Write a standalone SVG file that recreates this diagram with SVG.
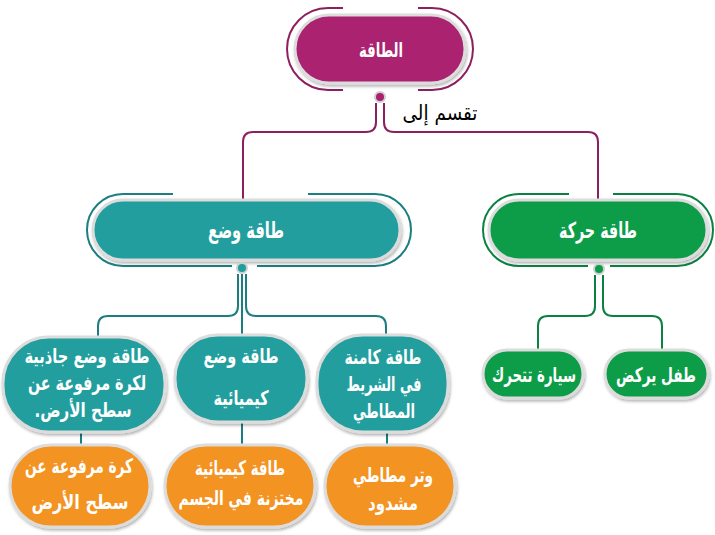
<svg xmlns="http://www.w3.org/2000/svg" width="715" height="535" viewBox="0 0 715 535">
<defs>
<filter id="sh" x="-10%" y="-10%" width="120%" height="130%">
<feDropShadow dx="1" dy="2" stdDeviation="1.5" flood-color="#000" flood-opacity="0.3"/>
</filter>
</defs>
<style>
.pill{stroke:#dcdcdc;stroke-width:3;filter:url(#sh)}
.mag{fill:#AB206F}.teal{fill:#209E9E}.green{fill:#0C9D4A}.orange{fill:#F39321}
.t{font-family:"DejaVu Sans","Noto Sans",sans-serif;fill:#fff;text-anchor:middle;font-weight:bold;direction:rtl;font-size:20px}
.fm{fill:none;stroke:#8E1F5E;stroke-width:2}
.ft{fill:none;stroke:#1B7E80;stroke-width:2}
.fg{fill:none;stroke:#0A8142;stroke-width:2}
.dot{stroke:#cfcfcf;stroke-width:2}
</style>
<g id="connectors">
<path class="fm" d="M376,103 V122 Q376,132 366,132 H253 Q243,132 243,142 V199"/>
<path class="fm" d="M384,103 V122 Q384,132 394,132 H588 Q598,132 598,142 V199"/>
<path class="ft" d="M238,274 V306 Q238,316 228,316 H108 Q98,316 98,326 V337"/>
<path class="ft" d="M242,274 V335"/>
<path class="ft" d="M246,274 V306 Q246,316 256,316 H376 Q386,316 386,326 V336"/>
<path class="fg" d="M595,275 V306 Q595,316 585,316 H548 Q538,316 538,326 V350"/>
<path class="fg" d="M603,275 V306 Q603,316 613,316 H652 Q662,316 662,326 V350"/>
<path class="ft" d="M81,432 V446 M242,422 V446 M387,432 V446"/>
<text x="440" y="120" font-family="DejaVu Serif,DejaVu Sans,serif" font-size="21" fill="#000" text-anchor="middle" direction="rtl" textLength="75" lengthAdjust="spacingAndGlyphs">تقسم إلى</text>
</g>
<g id="n-energy">
<path class="fm" d="M418,8 H432 A41,41 0 0 1 432,90 H418 M343,90 H328 A41,41 0 0 1 328,8 H343"/>
<rect class="pill mag" x="295" y="15" width="170" height="68" rx="34"/>
<circle class="dot mag" cx="380" cy="97" r="5"/>
<text class="t" x="381" y="57" style="font-size:20px" textLength="44" lengthAdjust="spacingAndGlyphs">الطاقة</text>
</g>
<g id="n-potential">
<path class="ft" d="M308,194 H375 A36,36 0 0 1 375,266 H257 M232,266 H123 A36,36 0 0 1 123,194 H173"/>
<rect class="pill teal" x="93" y="200" width="307" height="60" rx="30"/>
<circle class="dot teal" cx="242" cy="268" r="5"/>
<text class="t" x="246" y="238" style="font-size:23px" textLength="76" lengthAdjust="spacingAndGlyphs">طاقة وضع</text>
</g>
<g id="n-kinetic">
<path class="fg" d="M613,194 H677 A36,36 0 0 1 677,266 H610 M588,266 H519 A36,36 0 0 1 519,194 H569"/>
<rect class="pill green" x="489" y="200" width="218" height="60" rx="30"/>
<circle class="dot green" cx="599" cy="269" r="5"/>
<text class="t" x="598" y="238" style="font-size:22px" textLength="78" lengthAdjust="spacingAndGlyphs">طاقة حركة</text>
</g>
<g id="n-car">
<rect class="pill green" x="483" y="350" width="100" height="48" rx="24"/>
<text class="t" x="534" y="382" textLength="84" lengthAdjust="spacingAndGlyphs">سيارة تتحرك</text>
</g>
<g id="n-child">
<rect class="pill green" x="605" y="350" width="103" height="48" rx="24"/>
<text class="t" x="656" y="382" textLength="80" lengthAdjust="spacingAndGlyphs">طفل يركض</text>
</g>
<g id="n-grav">
<rect class="pill teal" x="3" y="337" width="162" height="95" rx="46"/>
<text class="t" x="87" y="363" textLength="125" lengthAdjust="spacingAndGlyphs">طاقة وضع جاذبية</text>
<text class="t" x="87" y="390" textLength="118" lengthAdjust="spacingAndGlyphs">لكرة مرفوعة عن</text>
<text class="t" x="83" y="417" textLength="97" lengthAdjust="spacingAndGlyphs">سطح الأرض.</text>
</g>
<g id="n-chem">
<rect class="pill teal" x="175" y="335" width="132" height="87" rx="43"/>
<text class="t" x="241" y="363" textLength="75" lengthAdjust="spacingAndGlyphs">طاقة وضع</text>
<text class="t" x="241" y="405" textLength="55" lengthAdjust="spacingAndGlyphs">كيميائية</text>
</g>
<g id="n-elastic">
<rect class="pill teal" x="317" y="335" width="131" height="97" rx="46"/>
<text class="t" x="383" y="364" textLength="77" lengthAdjust="spacingAndGlyphs">طاقة كامنة</text>
<text class="t" x="384" y="391" textLength="75" lengthAdjust="spacingAndGlyphs">في الشريط</text>
<text class="t" x="384" y="418" textLength="62" lengthAdjust="spacingAndGlyphs">المطاطي</text>
</g>
<g id="n-ball">
<rect class="pill orange" x="10" y="445" width="140" height="82" rx="41"/>
<text class="t" x="79" y="473" textLength="108" lengthAdjust="spacingAndGlyphs">كرة مرفوعة عن</text>
<text class="t" x="80" y="509" textLength="97" lengthAdjust="spacingAndGlyphs">سطح الأرض</text>
</g>
<g id="n-body">
<rect class="pill orange" x="165" y="445" width="150" height="82" rx="41"/>
<text class="t" x="240" y="475" textLength="90" lengthAdjust="spacingAndGlyphs">طاقة كيميائية</text>
<text class="t" x="241" y="505" textLength="125" lengthAdjust="spacingAndGlyphs">مختزنة في الجسم</text>
</g>
<g id="n-band">
<rect class="pill orange" x="325" y="445" width="130" height="82" rx="41"/>
<text class="t" x="393" y="482" textLength="80" lengthAdjust="spacingAndGlyphs">وتر مطاطي</text>
<text class="t" x="393" y="510" textLength="50" lengthAdjust="spacingAndGlyphs">مشدود</text>
</g>
</svg>
